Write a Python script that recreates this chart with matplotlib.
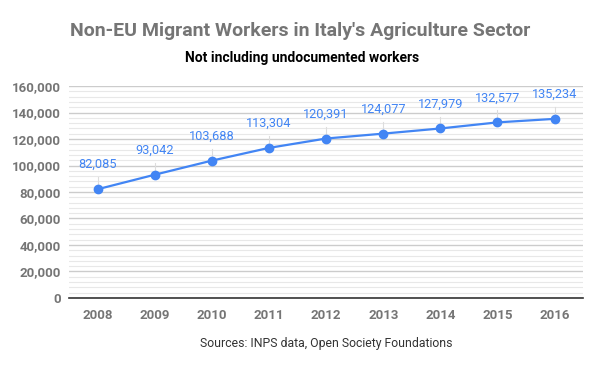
import matplotlib.pyplot as plt
from matplotlib.ticker import MultipleLocator, FuncFormatter

years = ["2008", "2009", "2010", "2011", "2012", "2013", "2014", "2015", "2016"]
workers = [82085, 93042, 103688, 113304, 120391, 124077, 127979, 132577, 135234]

plt.rcParams["font.family"] = ["Roboto", "DejaVu Sans"]

fig = plt.figure(figsize=(6, 3.71), dpi=100)
ax = fig.add_axes([0.115, 0.197, 0.857, 0.571])

blue = "#4285F4"
x = list(range(len(years)))
ax.plot(x, workers, color=blue, linewidth=1.6, marker="o", markersize=6, zorder=3)

for xi, v in zip(x, workers):
    ax.plot([xi, xi], [v, v + 9000], color="#dddddd", linewidth=0.8, zorder=2)
    ax.annotate(f"{v:,}", (xi, v), xytext=(0, 13), textcoords="offset points",
                ha="center", va="bottom", color=blue, fontsize=9.2, zorder=4)

ax.set_xlim(-0.5, len(years) - 0.5)
ax.set_ylim(0, 160000)
ax.set_xticks(x)
ax.set_xticklabels(years)
ax.yaxis.set_major_locator(MultipleLocator(20000))
ax.yaxis.set_minor_locator(MultipleLocator(4000))
ax.yaxis.set_major_formatter(FuncFormatter(lambda v, p: f"{int(v):,}"))

ax.grid(axis="y", which="major", color="#cccccc", linewidth=1)
ax.grid(axis="y", which="minor", color="#e8e8e8", linewidth=0.8)
ax.set_axisbelow(True)
for s in ["top", "right", "left"]:
    ax.spines[s].set_visible(False)
ax.spines["bottom"].set_color("#333333")
ax.spines["bottom"].set_linewidth(1.2)
ax.tick_params(axis="both", which="both", length=0)
ax.tick_params(axis="x", pad=8)
ax.tick_params(axis="y", pad=6)
for lbl in ax.get_xticklabels() + ax.get_yticklabels():
    lbl.set_color("#757575")
    lbl.set_fontweight("bold")
    lbl.set_fontsize(9.5)

fig.text(0.5, 0.916, "Non-EU Migrant Workers in Italy's Agriculture Sector",
         ha="center", va="center", fontsize=14, fontweight="bold", color="#757575")
fig.text(0.503, 0.844, "Not including undocumented workers",
         ha="center", va="center", fontsize=10, fontweight="bold", color="#000000")
fig.text(0.543, 0.073, "Sources: INPS data, Open Society Foundations",
         ha="center", va="center", fontsize=8.8, color="#333333")

fig.savefig("out.png", dpi=100)
